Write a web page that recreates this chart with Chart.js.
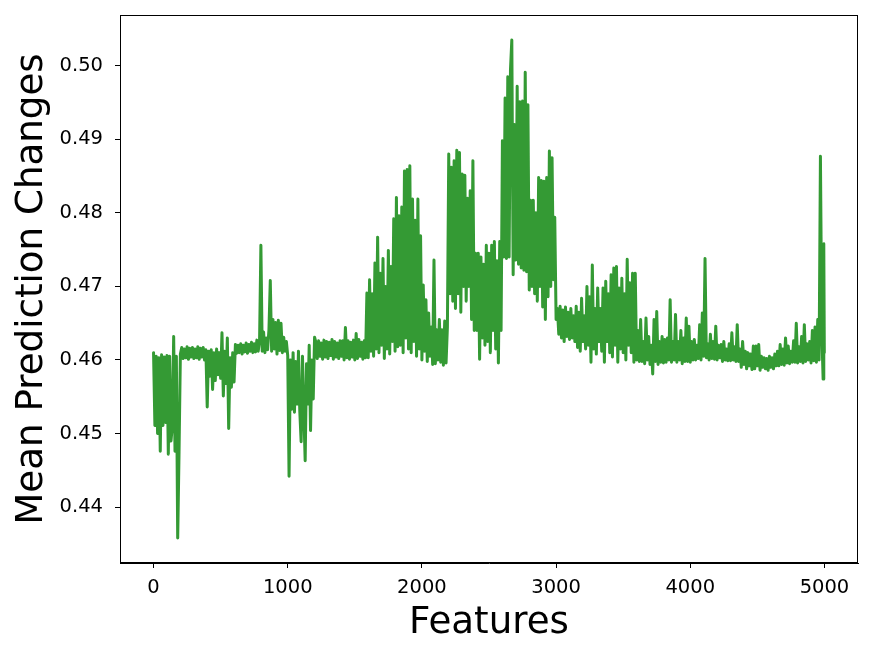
<!DOCTYPE html>
<html>
<head>
<meta charset="utf-8">
<script src="https://cdn.jsdelivr.net/npm/chart.js@4/dist/chart.umd.min.js"></script>
<style>
  html, body { margin: 0; padding: 0; background: #ffffff; }
  #wrap { width: 872px; height: 658px; position: relative; }
</style>
</head>
<body>
<div id="wrap"><canvas id="c" width="872" height="658"></canvas></div>
<script>
// Feature index of each plotted sample
const features = [
  0,10,20,30,40,50,60,70,80,90,
  100,110,120,130,140,150,160,170,180,190,
  200,210,220,230,240,250,260,270,280,290,
  300,310,320,330,340,350,360,370,380,390,
  400,410,420,430,440,450,460,470,480,490,
  500,510,520,530,540,550,560,570,580,590,
  600,610,620,630,640,650,660,670,680,690,
  700,710,720,730,740,750,760,770,780,790,
  800,810,820,830,840,850,860,870,880,890,
  900,910,920,930,940,950,960,970,980,990,
  1000,1010,1020,1030,1040,1050,1060,1070,1080,1090,
  1100,1110,1120,1130,1140,1150,1160,1170,1180,1190,
  1200,1210,1220,1230,1240,1250,1260,1270,1280,1290,
  1300,1310,1320,1330,1340,1350,1360,1370,1380,1390,
  1400,1410,1420,1430,1440,1450,1460,1470,1480,1490,
  1500,1510,1520,1530,1540,1550,1560,1570,1580,1590,
  1600,1610,1620,1630,1640,1650,1660,1670,1680,1690,
  1700,1710,1720,1730,1740,1750,1760,1770,1780,1790,
  1800,1810,1820,1830,1840,1850,1860,1870,1880,1890,
  1900,1910,1920,1930,1940,1950,1960,1970,1980,1990,
  2000,2010,2020,2030,2040,2050,2060,2070,2080,2090,
  2100,2110,2120,2130,2140,2150,2160,2170,2180,2190,
  2200,2210,2220,2230,2240,2250,2260,2270,2280,2290,
  2300,2310,2320,2330,2340,2350,2360,2370,2380,2390,
  2400,2410,2420,2430,2440,2450,2460,2470,2480,2490,
  2500,2510,2520,2530,2540,2550,2560,2570,2580,2590,
  2600,2610,2620,2630,2640,2650,2660,2670,2680,2690,
  2700,2710,2720,2730,2740,2750,2760,2770,2780,2790,
  2800,2810,2820,2830,2840,2850,2860,2870,2880,2890,
  2900,2910,2920,2930,2940,2950,2960,2970,2980,2990,
  3000,3010,3020,3030,3040,3050,3060,3070,3080,3090,
  3100,3110,3120,3130,3140,3150,3160,3170,3180,3190,
  3200,3210,3220,3230,3240,3250,3260,3270,3280,3290,
  3300,3310,3320,3330,3340,3350,3360,3370,3380,3390,
  3400,3410,3420,3430,3440,3450,3460,3470,3480,3490,
  3500,3510,3520,3530,3540,3550,3560,3570,3580,3590,
  3600,3610,3620,3630,3640,3650,3660,3670,3680,3690,
  3700,3710,3720,3730,3740,3750,3760,3770,3780,3790,
  3800,3810,3820,3830,3840,3850,3860,3870,3880,3890,
  3900,3910,3920,3930,3940,3950,3960,3970,3980,3990,
  4000,4010,4020,4030,4040,4050,4060,4070,4080,4090,
  4100,4110,4120,4130,4140,4150,4160,4170,4180,4190,
  4200,4210,4220,4230,4240,4250,4260,4270,4280,4290,
  4300,4310,4320,4330,4340,4350,4360,4370,4380,4390,
  4400,4410,4420,4430,4440,4450,4460,4470,4480,4490,
  4500,4510,4520,4530,4540,4550,4560,4570,4580,4590,
  4600,4610,4620,4630,4640,4650,4660,4670,4680,4690,
  4700,4710,4720,4730,4740,4750,4760,4770,4780,4790,
  4800,4810,4820,4830,4840,4850,4860,4870,4880,4890,
  4900,4910,4920,4930,4940,4950,4960,4970,4980,4990,
  4995,4999
];

// Mean prediction change, one per feature above
const meanChanges = [
  0.4610,0.4511,0.4605,0.4500,0.4603,0.4476,0.4607,0.4511,0.4604,0.4515,
  0.4606,0.4472,0.4605,0.4490,0.4510,0.4632,0.4476,0.4605,0.4358,0.4475,
  0.4608,0.4617,0.4602,0.4615,0.4603,0.4618,0.4601,0.4616,0.4604,0.4617,
  0.4602,0.4615,0.4603,0.4618,0.4601,0.4616,0.4604,0.4617,0.4600,0.4614,
  0.4536,0.4612,0.4578,0.4614,0.4560,0.4610,0.4572,0.4615,0.4580,0.4610,
  0.4575,0.4637,0.4551,0.4612,0.4568,0.4630,0.4507,0.4603,0.4563,0.4610,
  0.4570,0.4621,0.4609,0.4620,0.4610,0.4622,0.4608,0.4620,0.4611,0.4623,
  0.4609,0.4621,0.4612,0.4624,0.4610,0.4622,0.4611,0.4627,0.4612,0.4625,
  0.4756,0.4612,0.4638,0.4610,0.4630,0.4614,0.4641,0.4708,0.4612,0.4655,
  0.4615,0.4651,0.4608,0.4654,0.4613,0.4650,0.4610,0.4631,0.4612,0.4625,
  0.4606,0.4442,0.4600,0.4533,0.4610,0.4529,0.4598,0.4540,0.4612,0.4530,
  0.4489,0.4605,0.4530,0.4463,0.4595,0.4540,0.4620,0.4504,0.4600,0.4547,
  0.4631,0.4624,0.4602,0.4626,0.4605,0.4623,0.4601,0.4627,0.4604,0.4625,
  0.4602,0.4624,0.4606,0.4628,0.4601,0.4625,0.4604,0.4623,0.4602,0.4626,
  0.4605,0.4626,0.4600,0.4644,0.4603,0.4626,0.4601,0.4624,0.4604,0.4627,
  0.4600,0.4636,0.4602,0.4628,0.4605,0.4624,0.4601,0.4626,0.4603,0.4691,
  0.4603,0.4709,0.4612,0.4690,0.4605,0.4732,0.4615,0.4767,0.4610,0.4718,
  0.4620,0.4738,0.4602,0.4700,0.4615,0.4749,0.4608,0.4727,0.4625,0.4792,
  0.4612,0.4821,0.4618,0.4796,0.4620,0.4808,0.4610,0.4857,0.4630,0.4859,
  0.4615,0.4864,0.4610,0.4819,0.4625,0.4790,0.4605,0.4819,0.4615,0.4769,
  0.4600,0.4702,0.4612,0.4682,0.4598,0.4664,0.4605,0.4645,0.4594,0.4736,
  0.4595,0.4641,0.4600,0.4655,0.4597,0.4641,0.4593,0.4653,0.4596,0.4645,
  0.4880,0.4690,0.4862,0.4680,0.4871,0.4670,0.4885,0.4690,0.4882,0.4665,
  0.4853,0.4700,0.4851,0.4680,0.4820,0.4700,0.4830,0.4655,0.4871,0.4640,
  0.4745,0.4640,0.4745,0.4601,0.4740,0.4630,0.4730,0.4620,0.4756,0.4625,
  0.4745,0.4610,0.4756,0.4640,0.4761,0.4615,0.4735,0.4596,0.4761,0.4640,
  0.4898,0.4740,0.4956,0.4738,0.4985,0.4740,0.4994,0.5035,0.4716,0.4920,
  0.4736,0.4972,0.4730,0.4951,0.4725,0.4952,0.4722,0.4991,0.4720,0.4947,
  0.4695,0.4817,0.4700,0.4817,0.4690,0.4800,0.4680,0.4848,0.4700,0.4844,
  0.4672,0.4843,0.4655,0.4848,0.4686,0.4884,0.4700,0.4875,0.4709,0.4794,
  0.4655,0.4670,0.4635,0.4673,0.4630,0.4668,0.4625,0.4672,0.4632,0.4665,
  0.4628,0.4670,0.4630,0.4660,0.4625,0.4673,0.4617,0.4665,0.4612,0.4684,
  0.4625,0.4660,0.4615,0.4700,0.4620,0.4686,0.4597,0.4729,0.4615,0.4670,
  0.4608,0.4698,0.4625,0.4670,0.4612,0.4698,0.4597,0.4707,0.4625,0.4690,
  0.4610,0.4716,0.4604,0.4725,0.4620,0.4727,0.4597,0.4698,0.4615,0.4711,
  0.4610,0.4690,0.4600,0.4737,0.4620,0.4705,0.4610,0.4718,0.4597,0.4718,
  0.4600,0.4640,0.4598,0.4655,0.4598,0.4625,0.4595,0.4657,0.4600,0.4632,
  0.4594,0.4620,0.4581,0.4655,0.4598,0.4666,0.4594,0.4625,0.4597,0.4632,
  0.4596,0.4628,0.4597,0.4630,0.4600,0.4682,0.4597,0.4625,0.4600,0.4662,
  0.4597,0.4625,0.4600,0.4640,0.4595,0.4630,0.4598,0.4657,0.4598,0.4646,
  0.4597,0.4625,0.4600,0.4628,0.4600,0.4620,0.4602,0.4648,0.4600,0.4664,
  0.4605,0.4738,0.4603,0.4622,0.4600,0.4635,0.4602,0.4625,0.4601,0.4646,
  0.4600,0.4620,0.4603,0.4621,0.4598,0.4625,0.4600,0.4615,0.4599,0.4622,
  0.4599,0.4637,0.4600,0.4618,0.4598,0.4648,0.4598,0.4615,0.4590,0.4625,
  0.4594,0.4612,0.4588,0.4610,0.4592,0.4608,0.4587,0.4619,0.4588,0.4619,
  0.4592,0.4621,0.4586,0.4605,0.4590,0.4603,0.4588,0.4602,0.4586,0.4605,
  0.4590,0.4603,0.4588,0.4608,0.4592,0.4612,0.4592,0.4621,0.4594,0.4615,
  0.4593,0.4630,0.4596,0.4619,0.4595,0.4612,0.4597,0.4626,0.4597,0.4650,
  0.4596,0.4618,0.4598,0.4632,0.4596,0.4648,0.4598,0.4622,0.4600,0.4625,
  0.4596,0.4640,0.4599,0.4645,0.4597,0.4655,0.4600,0.4877,0.4640,0.4574,
  0.4758,0.4610
];

const xTickValues = [0, 1000, 2000, 3000, 4000, 5000];
const xTickLabels = ['0', '1000', '2000', '3000', '4000', '5000'];
const yTickValues = [0.44, 0.45, 0.46, 0.47, 0.48, 0.49, 0.50];
const yTickLabels = ['0.44', '0.45', '0.46', '0.47', '0.48', '0.49', '0.50'];
const xAxisTitle = 'Features';
const yAxisTitle = 'Mean Prediction Changes';

const points = features.map((f, i) => ({ x: f, y: meanChanges[i] }));

const framePlugin = {
  id: 'frame',
  afterDatasetsDraw(chart) {
    const { ctx, chartArea: a } = chart;
    ctx.save();
    ctx.strokeStyle = '#000';
    ctx.lineWidth = 1;
    ctx.strokeRect(Math.round(a.left) + 0.5, Math.round(a.top) + 0.5,
                   Math.round(a.right - a.left) - 1, Math.round(a.bottom - a.top) - 1);
    ctx.restore();
  }
};

const tickFont = { family: 'DejaVu Sans', size: 19.5 };
const titleFont = { family: 'DejaVu Sans', size: 37.2, weight: 'normal' };

new Chart(document.getElementById('c'), {
  type: 'line',
  data: {
    datasets: [{
      data: points,
      borderColor: '#349a34',
      borderWidth: 3,
      borderJoinStyle: 'round',
      borderCapStyle: 'round',
      pointRadius: 0,
      tension: 0,
      fill: false
    }]
  },
  options: {
    responsive: false,
    animation: false,
    layout: { padding: { top: 15, right: 14, left: 0, bottom: 0 } },
    plugins: { legend: { display: false }, tooltip: { enabled: false } },
    scales: {
      x: {
        type: 'linear',
        min: -250,
        max: 5250,
        afterBuildTicks: s => { s.ticks = xTickValues.map(v => ({ value: v })); },
        afterFit: s => { s.height = 95; s.paddingLeft = 0; s.paddingRight = 0; },
        ticks: {
          autoSkip: false, maxRotation: 0, color: '#000', font: tickFont, padding: 8,
          callback: (v) => { const i = xTickValues.indexOf(v); return i >= 0 ? xTickLabels[i] : ''; }
        },
        grid: { drawOnChartArea: false, drawTicks: true, tickLength: 5, tickColor: '#000', tickWidth: 1 },
        border: { display: true, color: '#000', width: 1 },
        title: { display: true, text: xAxisTitle, color: '#000', font: titleFont, padding: { top: 0, bottom: 12 } }
      },
      y: {
        type: 'linear',
        min: 0.4324,
        max: 0.5069,
        afterBuildTicks: s => { s.ticks = yTickValues.map(v => ({ value: v })); },
        afterFit: s => { s.width = 120; s.paddingTop = 0; s.paddingBottom = 0; },
        ticks: {
          autoSkip: false, color: '#000', font: tickFont, padding: 12,
          callback: (v) => { const i = yTickValues.findIndex(t => Math.abs(t - v) < 1e-9); return i >= 0 ? yTickLabels[i] : ''; }
        },
        grid: { drawOnChartArea: false, drawTicks: true, tickLength: 5, tickColor: '#000', tickWidth: 1 },
        border: { display: true, color: '#000', width: 1 },
        title: { display: true, text: yAxisTitle, color: '#000', font: titleFont, padding: { top: 10, bottom: 0 } }
      }
    }
  },
  plugins: [framePlugin]
});
</script>
</body>
</html>
